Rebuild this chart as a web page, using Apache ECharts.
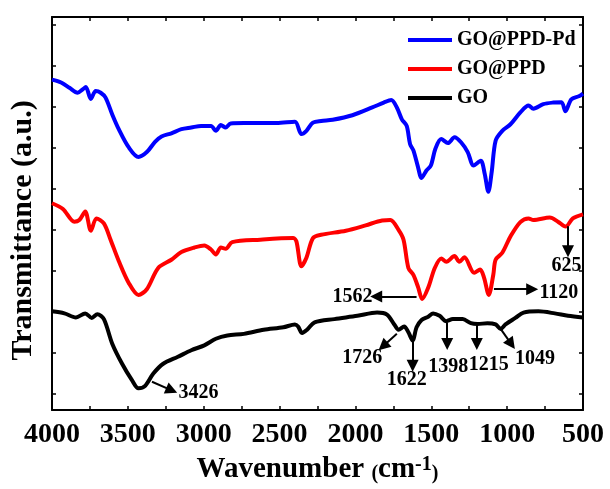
<!DOCTYPE html>
<html>
<head>
<meta charset="utf-8">
<script src="https://cdn.jsdelivr.net/npm/echarts@6/dist/echarts.min.js"></script>
<style>
  html, body { margin: 0; padding: 0; background: #fff; }
  #main { width: 610px; height: 489px; }
</style>
</head>
<body>
<div id="main"></div>
<script>
// ticks / labels
var xTickValues = [4000, 3750, 3500, 3250, 3000, 2750, 2500, 2250, 2000, 1750, 1500, 1250, 1000, 750, 500];
var xLabelValues = [4000, 3500, 3000, 2500, 2000, 1500, 1000, 500];
var yTickValues = [0, 1, 2, 3, 4, 5, 6, 7, 8, 9];

var seriesNames = ['GO@PPD-Pd', 'GO@PPD', 'GO'];
var seriesColors = ['#0000ff', '#ff0000', '#000000'];

// spectra: [wavenumber, transmittance (a.u.)]
var goPpdPd = [
  [4000, 7.67], [3940, 7.60], [3885, 7.47], [3831, 7.35], [3798, 7.43], [3777, 7.49],
  [3744, 7.20], [3712, 7.39], [3679, 7.35], [3647, 7.23], [3603, 6.82], [3560, 6.46],
  [3495, 6.02], [3430, 5.78], [3375, 5.90], [3321, 6.15], [3278, 6.28], [3213, 6.36],
  [3147, 6.46], [3082, 6.50], [3017, 6.54], [2952, 6.54], [2920, 6.42], [2887, 6.56],
  [2855, 6.50], [2822, 6.60], [2735, 6.61], [2519, 6.61], [2399, 6.64], [2356, 6.34],
  [2323, 6.42], [2280, 6.62], [2226, 6.66], [2150, 6.69], [2020, 6.80], [1889, 6.99],
  [1813, 7.11], [1764, 7.17], [1727, 6.99], [1694, 6.70], [1662, 6.54], [1640, 6.10],
  [1618, 5.94], [1590, 5.57], [1564, 5.27], [1532, 5.45], [1503, 5.57], [1473, 5.98],
  [1435, 6.22], [1390, 6.12], [1347, 6.26], [1304, 6.14], [1260, 5.90], [1221, 5.57],
  [1174, 5.69], [1148, 5.37], [1124, 4.93], [1102, 5.41], [1076, 6.18], [1032, 6.42],
  [978, 6.58], [913, 6.87], [859, 7.04], [827, 6.96], [762, 7.07], [697, 7.11],
  [642, 7.12], [616, 6.90], [577, 7.19], [524, 7.27], [500, 7.33]
];
var goPpd = [
  [4000, 4.65], [3928, 4.51], [3853, 4.20], [3820, 4.24], [3781, 4.45], [3744, 3.98],
  [3707, 4.28], [3658, 4.16], [3614, 3.76], [3560, 3.24], [3495, 2.71], [3430, 2.41],
  [3375, 2.55], [3300, 3.07], [3213, 3.27], [3147, 3.46], [3061, 3.57], [2996, 3.62],
  [2952, 3.52], [2920, 3.40], [2887, 3.57], [2855, 3.54], [2812, 3.70], [2627, 3.76],
  [2410, 3.80], [2389, 3.72], [2356, 3.11], [2323, 3.32], [2280, 3.80], [2226, 3.88],
  [2063, 3.98], [1933, 4.11], [1824, 4.23], [1770, 4.24], [1716, 4.00], [1683, 3.76],
  [1651, 3.07], [1618, 2.90], [1586, 2.59], [1560, 2.31], [1520, 2.59], [1477, 3.07],
  [1434, 3.30], [1401, 3.22], [1347, 3.36], [1315, 3.22], [1282, 3.33], [1217, 2.95],
  [1178, 3.03], [1152, 2.83], [1121, 2.41], [1091, 2.91], [1076, 3.27], [1032, 3.44],
  [978, 3.84], [913, 4.19], [859, 4.28], [827, 4.24], [719, 4.30], [665, 4.20],
  [615, 4.08], [567, 4.28], [500, 4.38]
];
var go = [
  [4000, 2.01], [3918, 1.96], [3842, 1.86], [3781, 1.96], [3738, 1.85], [3701, 1.94],
  [3658, 1.82], [3603, 1.22], [3538, 0.73], [3473, 0.33], [3430, 0.13], [3386, 0.19],
  [3332, 0.49], [3267, 0.73], [3170, 0.90], [3082, 1.06], [2996, 1.18], [2920, 1.34],
  [2844, 1.42], [2735, 1.46], [2605, 1.56], [2475, 1.62], [2399, 1.69], [2378, 1.64],
  [2351, 1.48], [2319, 1.56], [2269, 1.74], [2139, 1.82], [1987, 1.90], [1857, 1.98],
  [1792, 1.93], [1744, 1.69], [1716, 1.56], [1679, 1.64], [1651, 1.50], [1623, 1.30],
  [1597, 1.62], [1564, 1.80], [1520, 1.88], [1488, 1.96], [1445, 1.90], [1401, 1.77],
  [1358, 1.82], [1293, 1.82], [1239, 1.72], [1195, 1.70], [1130, 1.72], [1076, 1.69],
  [1043, 1.58], [1011, 1.69], [946, 1.85], [892, 1.98], [794, 2.01], [686, 1.96],
  [599, 1.90], [500, 1.86]
];

// peak annotations (label text, label anchor, arrow from -> to), in data units
var peakText = ['3426', '1726', '1622', '1398', '1215', '1049', '1562', '1120', '625'];
var peakLabelAt = [
  [3035, 0.01], [1955, 0.87], [1662, 0.33], [1389, 0.65], [1122, 0.70],
  [816, 0.86], [2020, 2.37], [659, 2.46], [608, 3.13]
];
var peakArrowFrom = [
  [3341, 0.29], [1727, 1.46], [1623, 1.26], [1395, 1.74], [1200, 1.69],
  [1043, 1.58], [1597, 2.37], [1087, 2.55], [599, 4.09]
];
var peakArrowTo = [
  [3211, 0.08], [1818, 1.16], [1623, 0.68], [1395, 1.21], [1200, 1.21],
  [972, 1.21], [1863, 2.37], [835, 2.55], [599, 3.48]
];

var serif = 'Liberation Serif';
var spectra = [goPpdPd, goPpd, go];

var chart = echarts.init(document.getElementById('main'), null, {renderer: 'canvas'});

var axisLineStyle = {color: '#000', width: 2};
var tickStyle = {color: '#000', width: 1.5};

var series = spectra.map(function (d, i) {
  return {
    name: seriesNames[i],
    type: 'line',
    data: d,
    showSymbol: false,
    smooth: 0.3,
    lineStyle: {color: seriesColors[i], width: 4},
    itemStyle: {color: seriesColors[i]},
    z: 3 - i
  };
});

// labels + arrows
series.push({
  name: 'peaks',
  type: 'scatter',
  symbolSize: 1,
  itemStyle: {color: 'rgba(0,0,0,0)', opacity: 1},
  data: peakText.map(function (t, i) {
    return [peakLabelAt[i][0], peakLabelAt[i][1], t];
  }),
  label: {
    show: true,
    position: 'inside',
    formatter: function (p) { return p.data[2]; },
    color: '#000',
    opacity: 1,
    textBorderWidth: 0,
    fontFamily: serif,
    fontWeight: 'bold',
    fontSize: 20
  },
  emphasis: {disabled: true},
  markLine: {
    silent: true,
    symbol: ['none', 'triangle'],
    symbolSize: 12,
    label: {show: false},
    lineStyle: {color: '#000', width: 2, type: 'solid', opacity: 1},
    data: peakText.map(function (t, i) {
      return [{coord: peakArrowFrom[i]}, {coord: peakArrowTo[i]}];
    })
  },
  z: 5
});

var option = {
  animation: false,
  backgroundColor: '#fff',
  grid: {left: 46, right: 27, top: 17, bottom: 76},
  legend: {
    data: seriesNames,
    orient: 'vertical',
    left: 408,
    top: 30,
    padding: 0,
    icon: 'rect',
    itemWidth: 44,
    itemHeight: 4,
    itemGap: 9,
    textStyle: {fontFamily: serif, fontWeight: 'bold', fontSize: 20, color: '#000'}
  },
  xAxis: [{
    type: 'value',
    position: 'bottom',
    min: 500,
    max: 4000,
    inverse: true,
    axisLine: {show: true, onZero: false, lineStyle: axisLineStyle},
    axisTick: {show: true, inside: true, length: 4, customValues: xTickValues, lineStyle: tickStyle},
    axisLabel: {
      show: true, customValues: xLabelValues, margin: 11,
      formatter: function (v) { return String(v); },
      fontFamily: serif, fontWeight: 'bold', fontSize: 28, color: '#000'
    },
    splitLine: {show: false},
    name: '{a|Wavenumber }{b|(}{a|cm}{c|-1}{b|)}',
    nameLocation: 'middle',
    nameGap: 45,
    nameTextStyle: {
      rich: {
        a: {fontFamily: serif, fontWeight: 'bold', fontSize: 29, color: '#000'},
        b: {fontFamily: serif, fontWeight: 'bold', fontSize: 20, color: '#000', verticalAlign: 'bottom'},
        c: {fontFamily: serif, fontWeight: 'bold', fontSize: 20, color: '#000', verticalAlign: 'top'}
      }
    }
  }, {
    type: 'value',
    position: 'top',
    min: 500,
    max: 4000,
    inverse: true,
    axisLine: {show: true, onZero: false, lineStyle: axisLineStyle},
    axisTick: {show: true, inside: true, length: 4, customValues: xTickValues, lineStyle: tickStyle},
    axisLabel: {show: false},
    splitLine: {show: false}
  }],
  yAxis: [{
    type: 'value',
    position: 'left',
    min: -0.4,
    max: 9.2,
    axisLine: {show: true, onZero: false, lineStyle: axisLineStyle},
    axisTick: {show: true, inside: true, length: 4, customValues: yTickValues, lineStyle: tickStyle},
    axisLabel: {show: false},
    splitLine: {show: false},
    name: 'Transmittance (a.u.)',
    nameLocation: 'middle',
    nameGap: 14,
    nameTextStyle: {
      fontFamily: serif, fontWeight: 'bold', fontSize: 30, color: '#000',
      padding: [0, 34, 0, 0]
    }
  }, {
    type: 'value',
    position: 'right',
    min: -0.4,
    max: 9.2,
    axisLine: {show: true, onZero: false, lineStyle: axisLineStyle},
    axisTick: {show: true, inside: true, length: 4, customValues: yTickValues, lineStyle: tickStyle},
    axisLabel: {show: false},
    splitLine: {show: false}
  }],
  series: series
};

chart.setOption(option);
</script>
</body>
</html>
